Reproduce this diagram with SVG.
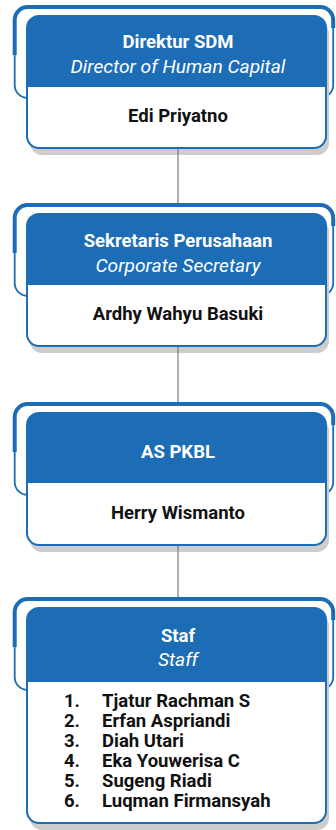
<svg xmlns="http://www.w3.org/2000/svg" width="336" height="830" viewBox="0 0 336 830">
<defs>
<style>
.bg{fill:#ffffff}
.back{fill:none;stroke:#1c6db5;stroke-width:1.8}
.backthick{fill:none;stroke:#1c6db5;stroke-width:4}
.shadow{fill:#cdcdcd}
.card{fill:#ffffff;stroke:#1c6db5;stroke-width:2}
.head{fill:#1c6db5}
.t{font-family:Roboto,"Liberation Sans",sans-serif;font-size:18.5px;text-anchor:middle}
.tb{font-weight:bold;fill:#ffffff}
.ti{font-style:italic;fill:#ffffff;font-size:19.2px}
.nm{font-weight:bold;fill:#111111}
.li{font-family:Roboto,"Liberation Sans",sans-serif;font-size:18.5px;font-weight:bold;fill:#111111}
.conn{stroke:#7a7a7a;stroke-width:1.2;fill:none}
</style>
<g id="frame">
<rect class="back" x="14.7" y="7" width="318.5" height="91" rx="13"/>
<path class="backthick" d="M14.7,55 V20 A13,13 0 0 1 27.7,7 H320.2 A13,13 0 0 1 333.2,20 V28"/>
<rect class="shadow" x="30" y="22" width="299" height="133" rx="12"/>
</g>
</defs>
<rect class="bg" x="0" y="0" width="336" height="830"/>

<g id="node1">
<use href="#frame"/>
<rect class="card" x="27" y="16" width="299" height="132" rx="12"/>
<path class="head" d="M27,87 V28 A12,12 0 0 1 39,16 H314 A12,12 0 0 1 326,28 V87 Z"/>
<text class="t tb" x="178" y="48">Direktur SDM</text>
<text class="t ti" x="178" y="73">Director of Human Capital</text>
<text class="t nm" x="178" y="122">Edi Priyatno</text>
</g>

<g id="node2" transform="translate(0,198)">
<use href="#frame"/>
<rect class="card" x="27" y="16" width="299" height="132" rx="12"/>
<path class="head" d="M27,87 V28 A12,12 0 0 1 39,16 H314 A12,12 0 0 1 326,28 V87 Z"/>
<text class="t tb" x="178" y="49">Sekretaris Perusahaan</text>
<text class="t ti" x="178" y="74">Corporate Secretary</text>
<text class="t nm" x="178" y="122">Ardhy Wahyu Basuki</text>
</g>

<g id="node3" transform="translate(0,397)">
<use href="#frame"/>
<rect class="card" x="27" y="16" width="299" height="132" rx="12"/>
<path class="head" d="M27,86 V28 A12,12 0 0 1 39,16 H314 A12,12 0 0 1 326,28 V86 Z"/>
<text class="t tb" x="178" y="61">AS PKBL</text>
<text class="t nm" x="178" y="122">Herry Wismanto</text>
</g>

<g id="node4" transform="translate(0,592)">
<rect class="back" x="14.7" y="7" width="318.5" height="91" rx="13"/>
<path class="backthick" d="M14.7,55 V20 A13,13 0 0 1 27.7,7 H320.2 A13,13 0 0 1 333.2,20 V28"/>
<rect class="shadow" x="30" y="22" width="299" height="216" rx="12"/>
<rect class="card" x="27" y="16" width="299" height="215" rx="12"/>
<path class="head" d="M27,90 V28 A12,12 0 0 1 39,16 H314 A12,12 0 0 1 326,28 V90 Z"/>
<text class="t tb" x="178" y="50">Staf</text>
<text class="t ti" x="178" y="74">Staff</text>
<text class="li" x="64" y="115">1.</text><text class="li" x="102" y="115">Tjatur Rachman S</text>
<text class="li" x="64" y="135">2.</text><text class="li" x="102" y="135">Erfan Aspriandi</text>
<text class="li" x="64" y="155">3.</text><text class="li" x="102" y="155">Diah Utari</text>
<text class="li" x="64" y="175">4.</text><text class="li" x="102" y="175">Eka Youwerisa C</text>
<text class="li" x="64" y="195">5.</text><text class="li" x="102" y="195">Sugeng Riadi</text>
<text class="li" x="64" y="215">6.</text><text class="li" x="102" y="215">Luqman Firmansyah</text>
</g>

<g id="connectors">
<line class="conn" x1="178" y1="149" x2="178" y2="203"/>
<line class="conn" x1="178" y1="347" x2="178" y2="402"/>
<line class="conn" x1="178" y1="546" x2="178" y2="597"/>
</g>
</svg>
